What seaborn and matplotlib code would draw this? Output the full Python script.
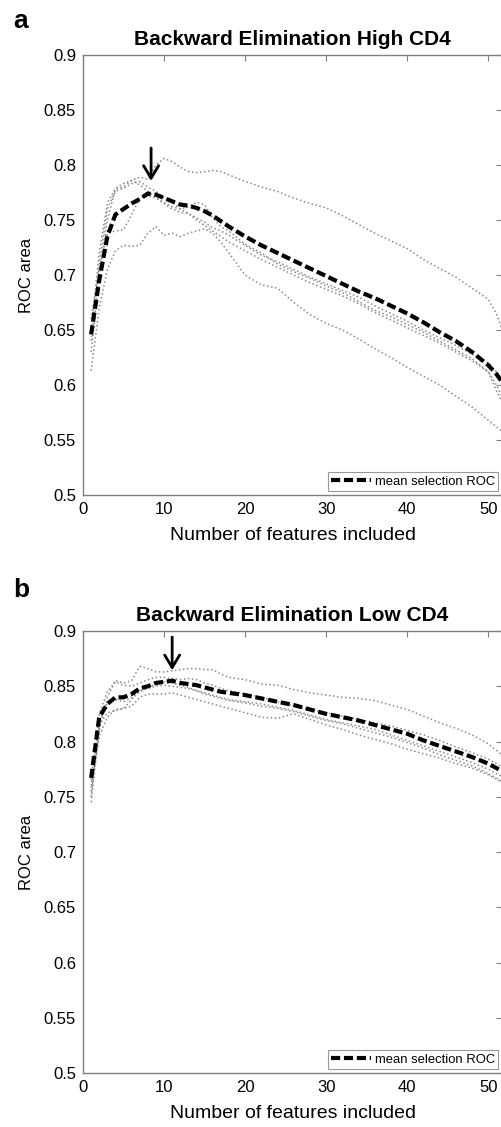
import pandas as pd
import seaborn as sb
import matplotlib
matplotlib.use('Agg')
import matplotlib.pyplot as plt

# number of features included (x axis grid shared by every curve)
FEATS = [1, 2, 3, 4, 5, 6, 7, 8, 9, 10, 11, 12, 13, 14, 15, 16, 17, 18,
         20, 22, 24, 26, 28, 30, 32, 34, 36, 38, 40, 42, 44, 46, 48, 50, 51, 52]

# panel a - High CD4
MEAN_HIGH = [0.646, 0.695, 0.735, 0.755, 0.760, 0.765, 0.769, 0.774, 0.773, 0.770, 0.767, 0.764,
             0.763, 0.761, 0.758, 0.754, 0.749, 0.744, 0.735, 0.727, 0.720, 0.713, 0.706, 0.699,
             0.692, 0.685, 0.679, 0.672, 0.665, 0.657, 0.648, 0.640, 0.630, 0.618, 0.610, 0.600]
RUNS_HIGH = [
    [0.630, 0.700, 0.750, 0.778, 0.780, 0.786, 0.789, 0.787, 0.800, 0.806, 0.803, 0.798,
     0.794, 0.793, 0.794, 0.795, 0.794, 0.791, 0.785, 0.780, 0.776, 0.770, 0.765, 0.761,
     0.754, 0.746, 0.738, 0.731, 0.724, 0.714, 0.706, 0.698, 0.688, 0.678, 0.665, 0.645],
    [0.613, 0.670, 0.705, 0.722, 0.727, 0.726, 0.727, 0.738, 0.744, 0.736, 0.738, 0.735,
     0.738, 0.740, 0.742, 0.738, 0.730, 0.720, 0.700, 0.691, 0.688, 0.675, 0.664, 0.656,
     0.650, 0.642, 0.633, 0.625, 0.616, 0.608, 0.600, 0.590, 0.580, 0.568, 0.562, 0.556],
    [0.650, 0.720, 0.765, 0.779, 0.783, 0.786, 0.782, 0.776, 0.770, 0.766, 0.762, 0.760,
     0.762, 0.766, 0.764, 0.752, 0.744, 0.740, 0.728, 0.720, 0.710, 0.703, 0.697, 0.690,
     0.684, 0.676, 0.668, 0.662, 0.655, 0.648, 0.640, 0.632, 0.624, 0.612, 0.595, 0.580],
    [0.660, 0.705, 0.738, 0.740, 0.741, 0.755, 0.770, 0.772, 0.770, 0.765, 0.760, 0.757,
     0.756, 0.750, 0.745, 0.740, 0.735, 0.730, 0.722, 0.714, 0.707, 0.700, 0.693, 0.687,
     0.681, 0.674, 0.666, 0.659, 0.652, 0.645, 0.638, 0.630, 0.622, 0.612, 0.600, 0.585],
    [0.640, 0.710, 0.760, 0.776, 0.779, 0.783, 0.785, 0.780, 0.776, 0.770, 0.766, 0.760,
     0.756, 0.752, 0.748, 0.743, 0.740, 0.736, 0.727, 0.718, 0.712, 0.705, 0.698, 0.692,
     0.686, 0.680, 0.672, 0.665, 0.658, 0.650, 0.643, 0.636, 0.628, 0.620, 0.612, 0.600],
]

# panel b - Low CD4
MEAN_LOW = [0.767, 0.822, 0.834, 0.840, 0.840, 0.843, 0.848, 0.850, 0.853, 0.854, 0.855, 0.853,
            0.852, 0.851, 0.849, 0.847, 0.845, 0.844, 0.842, 0.839, 0.836, 0.833, 0.829, 0.825,
            0.822, 0.819, 0.815, 0.811, 0.807, 0.801, 0.796, 0.791, 0.786, 0.780, 0.776, 0.772]
RUNS_LOW = [
    [0.745, 0.810, 0.840, 0.855, 0.853, 0.855, 0.868, 0.866, 0.863, 0.863, 0.864, 0.865,
     0.866, 0.866, 0.865, 0.865, 0.861, 0.858, 0.856, 0.852, 0.851, 0.847, 0.844, 0.842,
     0.840, 0.839, 0.837, 0.833, 0.829, 0.823, 0.817, 0.812, 0.806, 0.798, 0.792, 0.786],
    [0.755, 0.805, 0.822, 0.829, 0.830, 0.832, 0.840, 0.843, 0.843, 0.843, 0.844, 0.842,
     0.840, 0.838, 0.836, 0.834, 0.832, 0.830, 0.826, 0.822, 0.821, 0.825, 0.820, 0.815,
     0.811, 0.806, 0.802, 0.798, 0.793, 0.789, 0.785, 0.780, 0.776, 0.770, 0.766, 0.762],
    [0.760, 0.815, 0.826, 0.828, 0.830, 0.838, 0.845, 0.848, 0.850, 0.851, 0.850, 0.849,
     0.848, 0.846, 0.844, 0.842, 0.840, 0.838, 0.836, 0.834, 0.831, 0.828, 0.824, 0.820,
     0.817, 0.814, 0.811, 0.806, 0.801, 0.796, 0.791, 0.786, 0.781, 0.775, 0.771, 0.767],
    [0.765, 0.825, 0.845, 0.854, 0.851, 0.850, 0.853, 0.856, 0.858, 0.858, 0.857, 0.856,
     0.857, 0.856, 0.853, 0.851, 0.848, 0.846, 0.843, 0.840, 0.836, 0.832, 0.829, 0.826,
     0.823, 0.820, 0.817, 0.814, 0.810, 0.806, 0.801, 0.795, 0.790, 0.784, 0.780, 0.776],
    [0.750, 0.818, 0.835, 0.838, 0.836, 0.840, 0.846, 0.849, 0.852, 0.854, 0.853, 0.851,
     0.849, 0.846, 0.843, 0.841, 0.839, 0.837, 0.835, 0.832, 0.830, 0.827, 0.823, 0.819,
     0.816, 0.812, 0.808, 0.804, 0.799, 0.794, 0.788, 0.783, 0.778, 0.771, 0.767, 0.762],
]

PANELS = [
    ('a', 'Backward Elimination High CD4', MEAN_HIGH, RUNS_HIGH, 8.4, (0.818, 0.783)),
    ('b', 'Backward Elimination Low CD4', MEAN_LOW, RUNS_LOW, 11.0, (0.897, 0.862)),
]
Y_TICKS = [0.5, 0.55, 0.6, 0.65, 0.7, 0.75, 0.8, 0.85, 0.9]
Y_LABELS = ['0.5', '0.55', '0.6', '0.65', '0.7', '0.75', '0.8', '0.85', '0.9']
X_TICKS = [0, 10, 20, 30, 40, 50]

sb.set_style('white')
plt.rcParams['font.family'] = ['Liberation Sans', 'DejaVu Sans']
plt.rcParams['text.color'] = 'black'
plt.rcParams['axes.labelcolor'] = 'black'

fig = plt.figure(figsize=(5.01, 11.27), dpi=100, facecolor='white')
# axes boxes in figure fractions (left, bottom, width, height)
boxes = [(0.1657, 0.5608, 0.8363, 0.3904), (0.1657, 0.0479, 0.8363, 0.3922)]
letter_y = [1 - 28 / 1127, 1 - 597 / 1127]

for (letter, title, mean, runs, arrow_x, arrow_y), box, ly in zip(PANELS, boxes, letter_y):
    ax = fig.add_axes(box)

    # individual selection runs -> long format
    df_runs = pd.DataFrame(
        [(r, f, v) for r, run in enumerate(runs) for f, v in zip(FEATS, run)],
        columns=['run', 'feat', 'roc'])
    sb.lineplot(data=df_runs, x='feat', y='roc', units='run', estimator=None,
                color='#8a8a8a', linestyle=':', linewidth=1.1, legend=False, ax=ax)

    sb.lineplot(x=FEATS, y=mean, color='black', linewidth=3, ax=ax,
                label='mean selection ROC')
    ax.lines[-1].set_dashes((2.2, 0.9))

    ax.annotate('', xy=(arrow_x, arrow_y[1]), xytext=(arrow_x, arrow_y[0]),
                arrowprops=dict(arrowstyle='->,head_length=0.5,head_width=0.3',
                                color='black', lw=2.0, mutation_scale=18))

    ax.set_xlim(0, 51.7)
    ax.set_ylim(0.5, 0.9)
    ax.set_xticks(X_TICKS)
    ax.set_yticks(Y_TICKS)
    ax.set_yticklabels(Y_LABELS)
    ax.tick_params(direction='in', top=True, right=True, length=4, width=0.8,
                   color='#808080', labelsize=12, pad=5, labelcolor='black')
    for sp in ax.spines.values():
        sp.set_color('#808080')
        sp.set_linewidth(1.0)

    ax.set_title(title, fontsize=15, fontweight='bold', pad=7, color='black')
    ax.set_xlabel('Number of features included', fontsize=14, labelpad=7)
    ax.set_ylabel('ROC area', fontsize=12, labelpad=7)

    leg = ax.legend(loc='lower right', fontsize=9.4, frameon=True, fancybox=False,
                    edgecolor='#808080', handlelength=3.0, handletextpad=0.3,
                    borderpad=0.25, borderaxespad=0.3)
    leg.get_frame().set_linewidth(0.8)

    fig.text(0.026, ly, letter, fontsize=19, fontweight='bold', va='baseline')

plt.savefig('out.png', dpi=100, facecolor='white')
